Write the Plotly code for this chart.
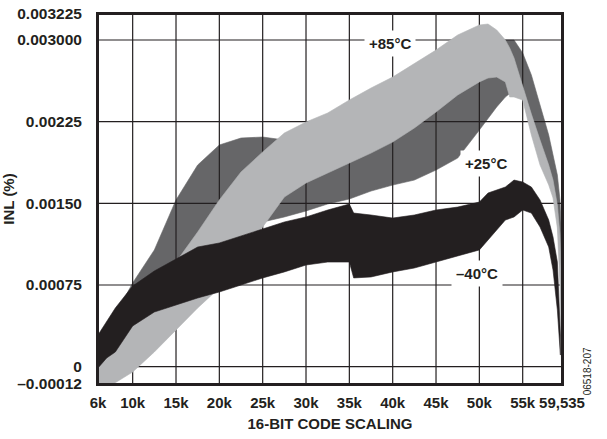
import plotly.graph_objects as go

# ---------------- data (codes, INL in %) ----------------
# -40°C band (black)
m40_code = [6000, 7000, 8000, 10000, 12500, 15000, 17500, 20000, 22500, 25000, 27500, 30000,
            32500, 35000, 35500, 37500, 40000, 42500, 45000, 47500, 50000, 51000, 52000, 53000,
            54000, 55000, 56000, 57000, 58000, 58500, 59000, 59200, 59350]
m40_hi = [0.000291, 0.000410, 0.000539, 0.000741, 0.000879, 0.000989, 0.001099, 0.001136, 0.001200,
          0.001264, 0.001329, 0.001375, 0.001439, 0.001494, 0.001411, 0.001393, 0.001365, 0.001393,
          0.001439, 0.001466, 0.001512, 0.001595, 0.001622, 0.001650, 0.001714, 0.001696, 0.001650,
          0.001531, 0.001347, 0.001191, 0.000961, 0.000613, 0.000291]
m40_lo = [-0.000012, 0.000080, 0.000135, 0.000374, 0.000502, 0.000567, 0.000631, 0.000686, 0.000750,
          0.000815, 0.000870, 0.000934, 0.000961, 0.000961, 0.000815, 0.000824, 0.000870, 0.000906,
          0.000961, 0.001017, 0.001072, 0.001163, 0.001255, 0.001347, 0.001375, 0.001439, 0.001411,
          0.001283, 0.001099, 0.000888, 0.000521, 0.000291, 0.000107]

# +85°C band (light grey)
p85_code = [6000, 7000, 8000, 10000, 12500, 15000, 17500, 20000, 22500, 25000, 27500, 30000,
            32500, 35000, 37500, 40000, 42500, 45000, 47500, 50000, 51000, 52000, 53000, 53500,
            54000, 55000, 56000, 57000, 58000, 58500, 59000, 59300, 59535]
p85_hi = [0.000245, 0.000291, 0.000337, 0.000447, 0.000613, 0.000961, 0.001237, 0.001531, 0.001788,
          0.001972, 0.002146, 0.002247, 0.002330, 0.002449, 0.002559, 0.002660, 0.002780, 0.002908,
          0.003046, 0.003138, 0.003147, 0.003092, 0.003000, 0.002927, 0.002835, 0.002568, 0.002320,
          0.002082, 0.001852, 0.001714, 0.001485, 0.001210, 0.000613]
p85_lo = [-0.000232, -0.000196, -0.000150, -0.000049, 0.000135, 0.000337, 0.000539, 0.000723,
          0.001026, 0.001283, 0.001558, 0.001687, 0.001779, 0.001870, 0.001962, 0.002063, 0.002192,
          0.002339, 0.002495, 0.002615, 0.002651, 0.002660, 0.002615, 0.002477, 0.002477, 0.002449,
          0.002128, 0.001852, 0.001669, 0.001549, 0.001274, 0.000750, -0.000232]

# +25°C band (dark grey)
p25_code = [6000, 8000, 10000, 12500, 15000, 17500, 20000, 22500, 25000, 27500, 30000, 32500,
            35000, 37500, 40000, 42500, 45000, 47500, 50000, 51000, 52000, 53000, 54000, 55000,
            56000, 57000, 58000, 58500, 59000, 59300, 59535]
p25_hi = [0.000200, 0.000475, 0.000769, 0.001072, 0.001531, 0.001852, 0.002036, 0.002100, 0.002109,
          0.002082, 0.002173, 0.002256, 0.002375, 0.002486, 0.002578, 0.002706, 0.002835, 0.002954,
          0.003000, 0.003000, 0.003000, 0.003000, 0.003000, 0.002881, 0.002679, 0.002403, 0.002128,
          0.001944, 0.001760, 0.001531, 0.001118]
p25_lo = [-0.000076, 0.000154, 0.000383, 0.000613, 0.000796, 0.000962, 0.001072, 0.001210, 0.001329,
          0.001375, 0.001430, 0.001494, 0.001540, 0.001613, 0.001668, 0.001714, 0.001806, 0.001916,
          0.002173, 0.002284, 0.002385, 0.002477, 0.002541, 0.002477, 0.002220, 0.001944, 0.001760,
          0.001622, 0.001393, 0.000961, 0.000428]

# axes
x_range = [6000, 59535]
x_tickvals = [6000, 10000, 15000, 20000, 25000, 30000, 35000, 40000, 45000, 50000, 55000, 59535]
x_ticktext = ["6k", "10k", "15k", "20k", "25k", "30k", "35k", "40k", "45k", "50k", "55k", "59,535"]
y_range = [-0.000159, 0.003239]
y_tickvals = [-0.000159, 0.0, 0.00075, 0.0015, 0.00225, 0.003, 0.003239]
y_ticktext = ["–0.00012", "0", "0.00075", "0.00150", "0.00225", "0.003000", "0.003225"]

labels = ["+85°C", "+25°C", "–40°C"]
label_x = [39700, 50750, 49700]
label_y = [0.002972, 0.001870, 0.000860]

C_DARK = "rgb(102,102,104)"
C_LIGHT = "rgb(180,181,183)"
C_BLACK = "rgb(35,31,32)"
C_GRID = "rgb(35,31,32)"


def band(xs, hi, lo, color, name):
    return go.Scatter(
        x=list(xs) + list(xs)[::-1],
        y=list(hi) + list(lo)[::-1],
        fill="toself", fillcolor=color, mode="lines",
        line=dict(width=0.6, color=color),
        name=name, hoverinfo="skip", showlegend=False,
    )


# grid lines built from the tick values (so they can sit between the bands,
# as in the original where the +25°C trace lies beneath the grid)
gx, gy = [], []
for v in x_tickvals[1:-1]:
    gx += [v, v, None]
    gy += [y_range[0], y_range[1], None]
for v in y_tickvals[1:-1]:
    gx += [x_range[0], x_range[1], None]
    gy += [v, v, None]

fig = go.Figure()
fig.add_trace(band(p25_code, p25_hi, p25_lo, C_DARK, labels[1]))
fig.add_trace(go.Scatter(x=gx, y=gy, mode="lines", line=dict(color=C_GRID, width=1.2),
                         hoverinfo="skip", showlegend=False, connectgaps=False))
fig.add_trace(band(p85_code, p85_hi, p85_lo, C_LIGHT, labels[0]))
fig.add_trace(band(m40_code, m40_hi, m40_lo, C_BLACK, labels[2]))

FONT = "Liberation Sans, Arial, Helvetica, sans-serif"
xtickfont = dict(family=FONT, size=15, color="#231f20", weight="bold")
ytickfont = dict(family=FONT, size=15.5, color="#231f20", weight="bold")

fig.update_layout(
    width=607, height=439, autosize=False,
    margin=dict(l=98, r=45, t=14, b=55),
    paper_bgcolor="white", plot_bgcolor="white",
    showlegend=False,
    xaxis=dict(range=x_range, tickmode="array", automargin=False, tickangle=0,
               tickvals=x_tickvals, ticktext=x_ticktext, tickfont=xtickfont,
               showgrid=False, zeroline=False,
               showline=True, linecolor="#231f20", linewidth=2, mirror=True, ticks="",
               ticklabelstandoff=4, fixedrange=True,
               title=dict(text="16-BIT CODE SCALING", standoff=8,
                          font=dict(family=FONT, size=15, color="#231f20", weight="bold"))),
    yaxis=dict(range=y_range, tickmode="array", automargin=False,
               tickvals=y_tickvals, ticktext=y_ticktext, tickfont=ytickfont,
               showgrid=False, zeroline=False,
               showline=True, linecolor="#231f20", linewidth=2, mirror=True, ticks="",
               ticklabelstandoff=11, fixedrange=True,
               title=dict(text="INL (%)", standoff=2,
                          font=dict(family=FONT, size=15, color="#231f20", weight="bold"))),
)

# plot frame
fig.add_shape(type="rect", xref="paper", yref="paper", x0=0, y0=0, x1=1, y1=1,
              line=dict(color="#231f20", width=2), fillcolor="rgba(0,0,0,0)", layer="above")

for t, lx, ly in zip(labels, label_x, label_y):
    fig.add_annotation(x=lx, y=ly, xref="x", yref="y", text=t, showarrow=False,
                       font=dict(family=FONT, size=15, color="#231f20", weight="bold"),
                       bgcolor="white", borderpad=4)

fig.add_annotation(x=1.073, y=-0.035, xref="paper", yref="paper", text="06518-207",
                   showarrow=False, textangle=-90,
                   font=dict(family=FONT, size=10, color="#231f20"))

fig.write_html("out.html", config={"displayModeBar": False},
               post_script="document.body.style.margin='0px';")
